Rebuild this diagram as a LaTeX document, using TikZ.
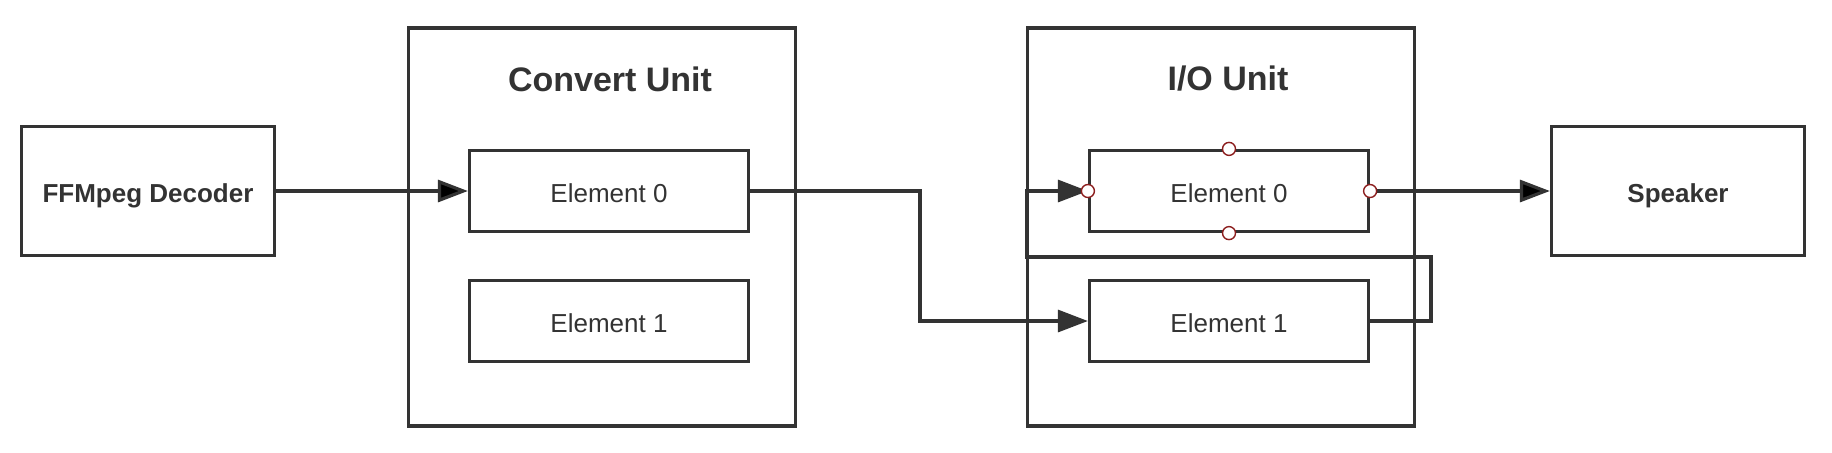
\documentclass[tikz,border=0pt]{standalone}
\usepackage{fontspec}
\setmainfont{Liberation Sans}
\usepackage{tikz}
\usetikzlibrary{arrows.meta}
\definecolor{linegray}{RGB}{51,51,51}
\definecolor{portred}{RGB}{140,30,30}

\begin{document}
\begin{tikzpicture}[x=0.5pt,y=-0.5pt,every node/.style={draw=linegray,text=linegray,line width=1.6pt,rectangle,inner sep=0pt},
            unit/.style={minimum width=193.5pt,minimum height=199pt},
            elem/.style={minimum width=139.5pt,minimum height=40.5pt,text height=11.5pt,text depth=0pt,font=\fontsize{13}{15}\selectfont},
            ends/.style={minimum width=126.5pt,minimum height=64.5pt,text height=11.5pt,text depth=0pt,font=\bfseries\fontsize{13}{15}\selectfont},
            title/.style={draw=none,font=\bfseries\fontsize{17}{20}\selectfont},
            port/.style={circle,draw=portred,fill=white,line width=0.7pt,minimum size=6.5pt},
            arr/.style={draw=linegray,line width=1.6pt,-{Triangle[length=15pt,width=11pt]}}]
            \useasboundingbox (0,0) rectangle (1832,452);

            \node[unit] (CU) at (602,227) {};
            \node[unit] (IU) at (1221,227) {};

            \node[ends] (FD) at (148,191) {FFMpeg Decoder};
            \node[elem] (CE0) at (609,191) {Element 0};
            \node[elem] (CE1) at (609,321) {Element 1};
            \node[elem] (IE0) at (1229,191) {Element 0};
            \node[elem] (IE1) at (1229,321) {Element 1};
            \node[ends] (SP) at (1678,191) {Speaker};

            \node[title] (CT) at (610,79) {Convert Unit};
            \node[title] (IT) at (1228,79) {I/O Unit};

            \coordinate (B1) at (920,191);
            \coordinate (B2) at (1431,257);
            \coordinate (B3) at (1027,257);

            \path [arr] (FD) edge (CE0);
            \draw [arr] (CE0.east) -- (B1) |- (IE1.west);
            \draw [arr] (IE1.east) -| (B2) -- (B3) |- (IE0.west);
            \path [arr] (IE0) edge (SP);

            \node[port] (P1) at (IE0.west) {};
            \node[port] (P2) at (IE0.east) {};
            \node[port] (P3) at (IE0.north) {};
            \node[port] (P4) at (IE0.south) {};
        \end{tikzpicture}
\end{document}
